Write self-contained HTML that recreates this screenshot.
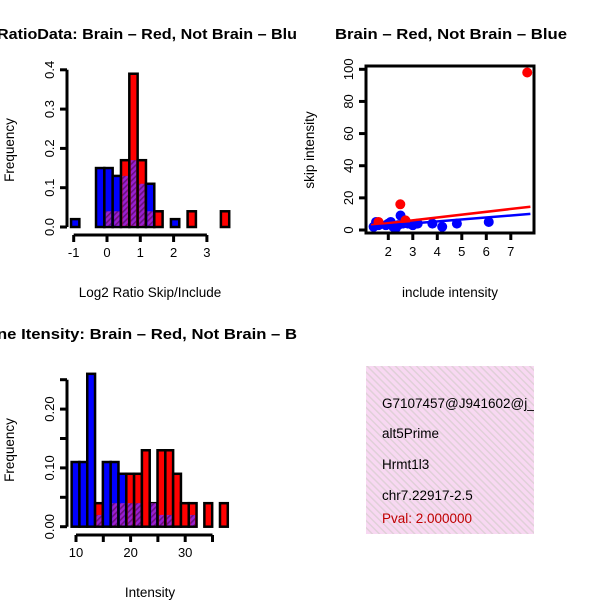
<!DOCTYPE html>
<html><head><meta charset="utf-8"><style>
html,body{margin:0;padding:0;background:#fff}
svg{display:block;font-family:"Liberation Sans",sans-serif}
</style></head><body>
<svg id="s" width="600" height="600" viewBox="0 0 600 600">
<defs>
<pattern id="hatch" width="4" height="4" patternUnits="userSpaceOnUse" patternTransform="rotate(45)">
<rect width="4" height="4" fill="#9a1fd0"/><rect width="1.6" height="4" fill="#6a1080"/></pattern>
<pattern id="pink" width="5" height="5" patternUnits="userSpaceOnUse" patternTransform="rotate(-45)">
<rect width="5" height="5" fill="#f8d8f2"/><rect width="1.5" height="5" fill="#e0d0d8"/></pattern>
<clipPath id="cl"><rect x="0" y="0" width="300" height="600"/></clipPath>
<clipPath id="cb"><rect x="366" y="366" width="168" height="168"/></clipPath>
</defs>
<g id="p1" clip-path="url(#cl)"></g>
<g id="p2" clip-path="url(#cl)"></g>
<g id="p3"></g>
<g>
<rect x="366" y="366" width="168" height="168" fill="url(#pink)"/>
<g clip-path="url(#cb)" font-size="13.5">
<text x="382" y="408">G7107457@J941602@j_</text>
<text x="382" y="438">alt5Prime</text>
<text x="382" y="469">Hrmt1l3</text>
<text x="382" y="500">chr7.22917-2.5</text>
<text x="382" y="523" fill="#c00000">Pval: 2.000000</text>
</g></g>
</svg>
<script>
// Histogram 1 data (bins start -1.08, width 0.25)
const h1Blue=[0.02,0,0,0.15,0.15,0.13,0.13,0.17,0.11,0.11,0,0,0.02,0,0,0,0,0,0];
const h1Red=[0,0,0,0,0.04,0.04,0.17,0.39,0.17,0.04,0.04,0,0,0,0.04,0,0,0,0.04];
const h1XTicks=[-1,0,1,2,3];
const h1YTicks=[0,0.1,0.2,0.3,0.4];
// Histogram 2 data (bins start 9.2, width 1.43)
const h2Blue=[0.11,0.11,0.26,0.02,0.11,0.11,0.09,0.04,0.04,0,0.04,0.02,0.02,0,0,0.02,0,0,0,0];
const h2Red=[0,0,0,0.04,0,0.04,0.04,0.09,0.09,0.13,0.04,0.13,0.13,0.09,0.04,0.04,0,0.04,0,0.04];
const h2XTicks=[10,15,20,25,30,35];
const h2XLabels=["10","","20","","30",""];
const h2YTicks=[0,0.05,0.10,0.15,0.20,0.25];
const h2YLabels=["0.00","","0.10","","0.20",""];
// Scatter data
const redX=[7.67,2.49,1.6,2.7];
const redY=[98,16,5,6];
const blueX=[1.4,1.5,1.6,1.9,2.0,2.1,2.2,2.3,2.4,2.5,2.6,2.8,3.0,3.2,3.8,4.2,4.8,6.1];
const blueY=[2,5,3,3,4,5,2,1,3,9,4,4,3,4,4,2,4,5];
const redLine=[[1.3,3],[7.8,14.5]];
const blueLine=[[1.3,2],[7.8,10]];
const scXTicks=[2,3,4,5,6,7];
const scYTicks=[0,20,40,60,80,100];
const NS="http://www.w3.org/2000/svg";
function mk(p,t,a){const e=document.createElementNS(NS,t);for(const k in a)e.setAttribute(k,a[k]);p.appendChild(e);return e;}
function hist(g,blue,red,start,w,xs,ys,ylab,xt,xl,yt,yl,title,titleX,xlabel){
  for(let i=0;i<blue.length;i++){
    const b=blue[i],r=red[i];if(!b&&!r)continue;
    const x0=xs(start+i*w),x1=xs(start+(i+1)*w);
    const mx=Math.max(b,r),mn=Math.min(b,r);
    const bar=mk(g,'rect',{x:x0,y:ys(mx),width:x1-x0,height:ys(0)-ys(mx),fill:b>=r?'#0000ff':'#ff0000',stroke:'#000','stroke-width':2.5});
    
    
    if(mn>0){const o=mk(g,'rect',{x:x0+1.5,y:ys(mn),width:x1-x0-3,height:ys(0)-ys(mn)-1.2,fill:'url(#hatch)'});
      
      }
  }
  const ax=ylab.x;
  mk(g,'line',{x1:ax,x2:ax,y1:ys(yt[0]),y2:ys(yt[yt.length-1]),stroke:'#000','stroke-width':3});
  yt.forEach((v,i)=>{mk(g,'line',{x1:ax-7,x2:ax,y1:ys(v),y2:ys(v),stroke:'#000','stroke-width':3});
    if(yl[i]){const t=mk(g,'text',{x:0,y:0,'font-size':13,'text-anchor':'middle',transform:`translate(${ax-13},${ys(v)}) rotate(-90)`});t.textContent=yl[i];
    
    }});
  const ay=ylab.y;
  mk(g,'line',{x1:xs(xt[0]),x2:xs(xt[xt.length-1]),y1:ay,y2:ay,stroke:'#000','stroke-width':3});
  xt.forEach((v,i)=>{mk(g,'line',{x1:xs(v),x2:xs(v),y1:ay,y2:ay+7,stroke:'#000','stroke-width':3});
    if(xl[i]){const t=mk(g,'text',{x:xs(v),y:ay+22,'font-size':13,'text-anchor':'middle'});t.textContent=xl[i];
    
    }});
  let t=mk(g,'text',{x:0,y:0,'font-size':13.5,'text-anchor':'middle',transform:`translate(14,${ylab.my}) rotate(-90)`});t.textContent='Frequency';
  
  
  t=mk(g,'text',{x:xlabel.x,y:xlabel.y,'font-size':13.5,'text-anchor':'middle'});t.textContent=xlabel.t;
  
  
  t=mk(g,'text',{x:titleX,y:title.y,'font-size':15,'font-weight':'bold',textLength:title.len,lengthAdjust:'spacingAndGlyphs'});t.textContent=title.t;
  
  
}
// panel 1
{const xs=v=>107+v*33.3, ys=v=>227-v*393;
hist(document.getElementById('p1'),h1Blue,h1Red,-1.08,0.25,xs,ys,{x:67,y:235,my:150},h1XTicks,["-1","0","1","2","3"],h1YTicks,["0.0","0.1","0.2","0.3","0.4"],{t:'RatioData: Brain \u2013 Red, Not Brain \u2013 Blu',y:39,len:300},-3,{x:150,y:297,t:'Log2 Ratio Skip/Include'});}
// panel 2
{const xs=v=>76+(v-10)*5.46, ys=v=>526.7-v*588;
hist(document.getElementById('p2'),h2Blue,h2Red,9.2,1.43,xs,ys,{x:67,y:535,my:450},h2XTicks,h2XLabels,h2YTicks,h2YLabels,{t:'ne Itensity: Brain \u2013 Red, Not Brain \u2013 B',y:339,len:300},-3,{x:150,y:597,t:'Intensity'});}
// panel 3 scatter
{const g=document.getElementById('p3');const xs=v=>388.3+(v-2)*24.5, ys=v=>230-v*1.607;
 const cl=mk(g,'clipPath',{id:'cs'});mk(cl,'rect',{x:366,y:66,width:168,height:167});
 const pg=mk(g,'g',{'clip-path':'url(#cs)'});
 blueX.forEach((x,i)=>{const c=mk(pg,'circle',{cx:xs(x),cy:ys(blueY[i]),r:5,fill:'#0000ff'});
   
   });
 redX.forEach((x,i)=>{const c=mk(pg,'circle',{cx:xs(x),cy:ys(redY[i]),r:5,fill:'#ff0000'});
   
   });
 let l=mk(pg,'line',{x1:xs(redLine[0][0]),y1:ys(redLine[0][1]),x2:xs(redLine[1][0]),y2:ys(redLine[1][1]),stroke:'#ff0000','stroke-width':2.5});
 
 
 l=mk(pg,'line',{x1:xs(blueLine[0][0]),y1:ys(blueLine[0][1]),x2:xs(blueLine[1][0]),y2:ys(blueLine[1][1]),stroke:'#0000ff','stroke-width':2.5});
 
 
 const box=mk(g,'rect',{x:366,y:66,width:168,height:167,fill:'none',stroke:'#000','stroke-width':3});
 
 
 scXTicks.forEach(v=>{mk(g,'line',{x1:xs(v),x2:xs(v),y1:233,y2:240,stroke:'#000','stroke-width':3});
   const t=mk(g,'text',{x:xs(v),y:256,'font-size':13,'text-anchor':'middle'});t.textContent=v;
   
   });
 scYTicks.forEach(v=>{mk(g,'line',{x1:359,x2:366,y1:ys(v),y2:ys(v),stroke:'#000','stroke-width':3});
   const t=mk(g,'text',{x:0,y:0,'font-size':13,'text-anchor':'middle',transform:`translate(353,${ys(v)}) rotate(-90)`});t.textContent=v;
   
   });
 let t=mk(g,'text',{x:0,y:0,'font-size':13.5,'text-anchor':'middle',transform:'translate(314,150) rotate(-90)'});t.textContent='skip intensity';
 
 
 t=mk(g,'text',{x:450,y:297,'font-size':13.5,'text-anchor':'middle'});t.textContent='include intensity';
 
 
 t=mk(g,'text',{x:335,y:39,'font-size':15,'font-weight':'bold',textLength:232,lengthAdjust:'spacingAndGlyphs'});t.textContent='Brain \u2013 Red, Not Brain \u2013 Blue';
 
 
}
</script>
</body></html>
